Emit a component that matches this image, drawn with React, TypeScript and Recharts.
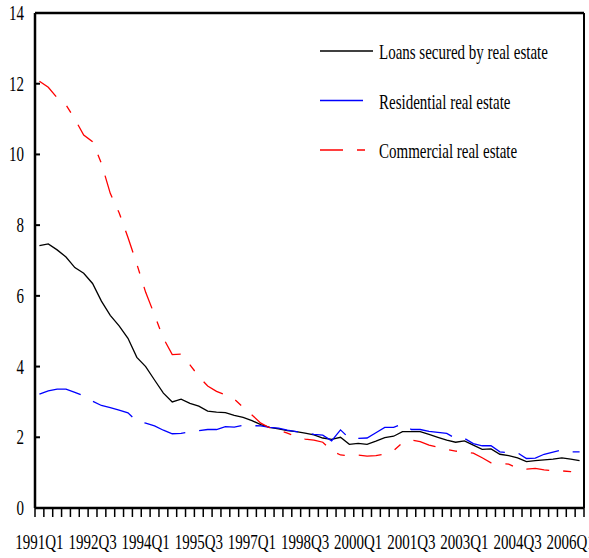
import { LineChart, Line, XAxis, YAxis, Legend } from 'recharts'

const quarters = [
  '1991Q1', '1991Q2', '1991Q3', '1991Q4', '1992Q1', '1992Q2', '1992Q3', '1992Q4',
  '1993Q1', '1993Q2', '1993Q3', '1993Q4', '1994Q1', '1994Q2', '1994Q3', '1994Q4',
  '1995Q1', '1995Q2', '1995Q3', '1995Q4', '1996Q1', '1996Q2', '1996Q3', '1996Q4',
  '1997Q1', '1997Q2', '1997Q3', '1997Q4', '1998Q1', '1998Q2', '1998Q3', '1998Q4',
  '1999Q1', '1999Q2', '1999Q3', '1999Q4', '2000Q1', '2000Q2', '2000Q3', '2000Q4',
  '2001Q1', '2001Q2', '2001Q3', '2001Q4', '2002Q1', '2002Q2', '2002Q3', '2002Q4',
  '2003Q1', '2003Q2', '2003Q3', '2003Q4', '2004Q1', '2004Q2', '2004Q3', '2004Q4',
  '2005Q1', '2005Q2', '2005Q3', '2005Q4', '2006Q1', '2006Q2',
]

const loansSecured = [
  7.42, 7.47, 7.3, 7.1, 6.8, 6.64, 6.35, 5.85, 5.45, 5.15,
  4.8, 4.26, 4.0, 3.62, 3.25, 3.0, 3.08, 2.96, 2.88, 2.74,
  2.71, 2.7, 2.62, 2.56, 2.47, 2.36, 2.28, 2.24, 2.19, 2.16,
  2.12, 2.07, 1.98, 1.94, 2.0, 1.8, 1.83, 1.8, 1.89, 1.99,
  2.03, 2.16, 2.16, 2.16, 2.08, 2.0, 1.92, 1.86, 1.9, 1.78,
  1.66, 1.67, 1.52, 1.48, 1.42, 1.31, 1.34, 1.36, 1.38, 1.42,
  1.38, 1.34,
]

const residential = [
  3.22, 3.31, 3.36, 3.36, 3.27, 3.17, 3.02, 2.9, 2.84, 2.77,
  2.69, 2.45, 2.4, 2.32, 2.2, 2.1, 2.11, 2.15, 2.19, 2.22,
  2.22, 2.3, 2.29, 2.34, 2.33, 2.32, 2.28, 2.26, 2.2, 2.16,
  2.14, 2.08, 2.06, 1.9, 2.21, 1.97, 1.97, 1.98, 2.13, 2.28,
  2.28, 2.38, 2.22, 2.22, 2.17, 2.14, 2.11, 1.97, 1.97, 1.82,
  1.76, 1.76, 1.59, 1.56, 1.56, 1.4, 1.41, 1.52, 1.58, 1.64,
  1.59, 1.59,
]

const commercial = [
  12.07, 11.9, 11.6, 11.4, 11.0, 10.55, 10.36, 9.75, 8.9, 8.35,
  7.65, 6.9, 6.1, 5.46, 4.8, 4.34, 4.35, 4.05, 3.72, 3.45,
  3.3, 3.2, 3.08, 2.85, 2.63, 2.4, 2.27, 2.2, 2.12, 2.02,
  1.95, 1.92, 1.86, 1.62, 1.5, 1.48, 1.5, 1.47, 1.48, 1.53,
  1.62, 1.85, 1.92, 1.88, 1.78, 1.72, 1.66, 1.61, 1.58, 1.55,
  1.42, 1.28, 1.26, 1.24, 1.12, 1.1, 1.12, 1.08, 1.05, 1.05,
  1.03, 1.0,
]

const yTicks = [0, 2, 4, 6, 8, 10, 12, 14]
const LABEL_EVERY = 6

const series = [
  { key: 'loans', name: 'Loans secured by real estate', color: '#000000', dash: undefined, legendLen: 53 },
  { key: 'resid', name: 'Residential real estate', color: '#0000ff', dash: '43 14', legendLen: 47 },
  { key: 'comm', name: 'Commercial real estate', color: '#ff0000', dash: '23 14 8 14', legendLen: 47 },
]

// each quarter sits in the middle of its slot, like an Excel category axis
const data = quarters.map((q, i) => ({
  q,
  pos: i + 0.5,
  loans: loansSecured[i],
  resid: residential[i],
  comm: commercial[i],
}))

// whole numbers = slot edges (tick marks), halves = slot centres (labels)
const slotTicks: number[] = []
for (let i = 0; i <= quarters.length; i++) {
  slotTicks.push(i)
  if (i < quarters.length) slotTicks.push(i + 0.5)
}

const FONT = '"Liberation Serif", "Times New Roman", serif'
const SQUEEZE = 0.75

function XTick({ x, y, payload }: any) {
  const v = payload.value as number
  if (Number.isInteger(v)) {
    return <line x1={x} x2={x} y1={y} y2={y + 9} stroke="#000" strokeWidth={1.5} />
  }
  const idx = v - 0.5
  if (idx % LABEL_EVERY !== 0) return <g />
  return (
    <g transform={`translate(${x},${y}) scale(${SQUEEZE},1)`}>
      <text x={0} y={41} textAnchor="middle" fontFamily={FONT} fontSize={20} fill="#000">
        {quarters[idx]}
      </text>
    </g>
  )
}

function YTick({ x, y, payload }: any) {
  return (
    <g>
      <line x1={x} x2={x + 5} y1={y} y2={y} stroke="#000" strokeWidth={2} />
      <g transform={`translate(${x - 11},${y}) scale(${SQUEEZE},1)`}>
        <text x={0} y={7} textAnchor="end" fontFamily={FONT} fontSize={20} fill="#000">
          {payload.value}
        </text>
      </g>
    </g>
  )
}

function LegendBox() {
  return (
    <svg width={270} height={140}>
      {series.map((s, i) => {
        const y = 21 + i * 49.5
        return (
          <g key={s.key}>
            <line x1={10} x2={10 + s.legendLen} y1={y} y2={y} stroke={s.color} strokeWidth={1.3} strokeDasharray={s.dash} />
            <g transform={`translate(69,${y}) scale(${SQUEEZE},1)`}>
              <text x={0} y={8} fontFamily={FONT} fontSize={20} fill="#000">
                {s.name}
              </text>
            </g>
          </g>
        )
      })}
    </svg>
  )
}

export default function App() {
  return (
    <div style={{ position: 'absolute', left: 0, top: 0, width: 589, height: 558, overflow: 'hidden', background: '#fff' }}>
      <LineChart width={589} height={558} data={data} margin={{ top: 12, right: 4, bottom: 0, left: 0 }}>
        <XAxis
          dataKey="pos"
          type="number"
          domain={[0, quarters.length]}
          ticks={slotTicks}
          interval={0}
          allowDataOverflow
          tick={<XTick />}
          tickLine={false}
          tickSize={0}
          tickMargin={0}
          axisLine={{ stroke: '#000', strokeWidth: 2.5 }}
          height={50}
        />
        <XAxis
          xAxisId="top"
          orientation="top"
          height={1}
          tick={false}
          tickLine={false}
          axisLine={{ stroke: '#000', strokeWidth: 2.5 }}
        />
        <YAxis
          domain={[0, 14]}
          ticks={yTicks}
          width={35}
          tick={<YTick />}
          tickLine={false}
          tickSize={0}
          tickMargin={0}
          axisLine={{ stroke: '#000', strokeWidth: 2.5 }}
        />
        <YAxis
          yAxisId="right"
          orientation="right"
          domain={[0, 14]}
          width={1}
          tick={false}
          tickLine={false}
          axisLine={{ stroke: '#000', strokeWidth: 2 }}
        />
        <Legend
          layout="vertical"
          align="center"
          verticalAlign="middle"
          content={<LegendBox />}
          wrapperStyle={{ top: 30, left: 310, width: 270, height: 140 }}
        />
        {series.map((s) => (
          <Line
            key={s.key}
            dataKey={s.key}
            name={s.name}
            type="linear"
            stroke={s.color}
            strokeWidth={1.3}
            strokeDasharray={s.dash}
            dot={false}
            activeDot={false}
            isAnimationActive={false}
          />
        ))}
      </LineChart>
    </div>
  )
}
